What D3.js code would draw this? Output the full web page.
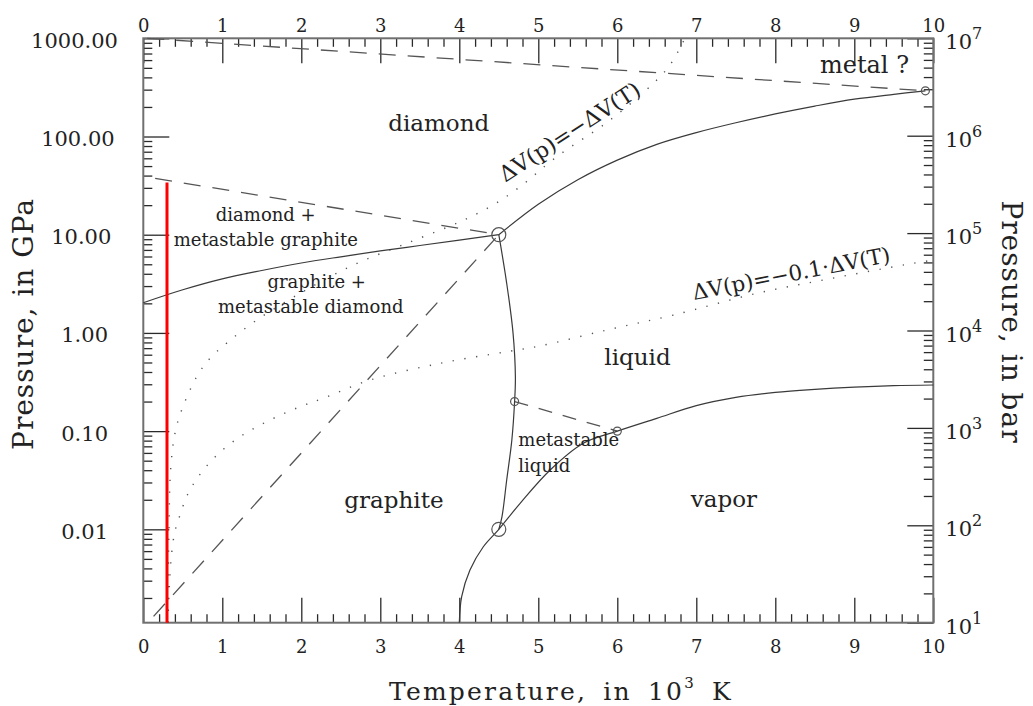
<!DOCTYPE html>
<html><head><meta charset="utf-8">
<script src="https://cdn.jsdelivr.net/npm/d3@7"></script>
<style>
body{margin:0;background:#fff}
svg{display:block}
text{font-family:"DejaVu Serif",serif;fill:#222}
</style>
</head><body>
<svg id="chart" width="1033" height="706"></svg>
<script>
// ---------------- data (T in 10^3 K, P in GPa) ----------------
const xTickValues = [0,1,2,3,4,5,6,7,8,9,10];
const xMinorValues = d3.range(0,10.001,0.2).filter(v => Math.abs(v-Math.round(v))>1e-6);
const leftTickValues = [1000,100,10,1,0.1,0.01];
const leftTickLabels = ["1000.00","100.00","10.00","1.00","0.10","0.01"];
const rightTickExponents = [1,2,3,4,5,6,7];

const graphiteDiamond = [[0,2.03],[0.5,2.75],[1.0,3.55],[1.5,4.32],[2.0,5.15],[2.5,5.96],[3.0,6.84],[3.5,7.76],[4.0,8.81],[4.5,10]];
const meltingGraphite = [[4.5,10],[4.6,3.2],[4.68,1.0],[4.71,0.355],[4.70,0.2],[4.665,0.081],[4.6,0.0318],[4.54,0.0134],[4.5,0.01]];
const liquidDiamond = [[4.5,10],[5.0,20.4],[5.5,36.3],[6.0,57.5],[6.5,83.2],[7.0,109.6],[7.5,138],[8.0,169.8],[8.5,204],[9.0,240],[9.5,269],[9.9,292]];
const vaporCurve = [[4.0,0.00112],[4.03,0.00206],[4.135,0.00385],[4.304,0.00665],[4.5,0.01],[4.77,0.0184],[5.15,0.0402],[5.57,0.0752],[6.0,0.1],[6.5,0.135],[7.0,0.182],[7.5,0.221],[8.0,0.248],[8.5,0.266],[9.0,0.28],[9.5,0.29],[10,0.295]];
const dvEqual = [[0.313,0.00112],[0.325,0.01],[0.347,0.0418],[0.401,0.095],[0.486,0.164],[0.676,0.358],[0.844,0.551],[1.076,0.813],[1.435,1.35],[1.984,2.53],[2.658,4.91],[3.334,8.17],[4.009,13.55],[4.4,19.5],[4.75,30],[5.233,62.2],[5.908,147],[6.456,348],[6.667,535],[6.857,1000]];
const dvTenth = [[0.313,0.00112],[0.329,0.0026],[0.359,0.0057],[0.40,0.0095],[0.46,0.0136],[0.562,0.0227],[0.718,0.0363],[0.92,0.0557],[1.161,0.081],[1.414,0.108],[1.689,0.14],[1.984,0.177],[2.278,0.216],[2.87,0.331],[3.756,0.49],[4.6,0.644],[5.02,0.736],[5.866,1.07],[6.709,1.52],[7.765,2.53],[8.608,3.46],[9.747,5.12],[10,5.52]];
const metalBoundary = [[0.05,1000],[9.9,292]];
const metastableDiamondLine = [[0.15,37.5],[4.5,10]];
const metastableGraphiteLine = [[0.13,0.0013],[4.5,10]];
const metastableLiquidLine = [[4.70,0.2],[6.0,0.1]];
const triplePoints = [[4.5,10],[4.5,0.01]];
const minorPoints = [[4.70,0.2],[6.0,0.1],[9.9,292]];
const redLine = [[0.3,0.00112],[0.3,34]];

const regionLabels = [
  {text:"diamond", T:3.74, P:114, size:23, anchor:"middle"},
  {text:"diamond +", T:1.55, P:13.9, size:18, anchor:"middle"},
  {text:"metastable graphite", T:1.55, P:7.67, size:18, anchor:"middle"},
  {text:"graphite +", T:2.195, P:2.87, size:18, anchor:"middle"},
  {text:"metastable diamond", T:2.12, P:1.61, size:18, anchor:"middle"},
  {text:"liquid", T:6.256, P:0.471, size:23, anchor:"middle"},
  {text:"metastable", T:4.747, P:0.0705, size:18, anchor:"start"},
  {text:"liquid", T:4.747, P:0.0386, size:18, anchor:"start"},
  {text:"graphite", T:3.173, P:0.0165, size:23, anchor:"middle"},
  {text:"vapor", T:7.35, P:0.0168, size:23, anchor:"middle"},
  {text:"metal ?", T:8.565, P:440, size:24, anchor:"start"}
];
const curveLabels = [
  {text:"ΔV(p)=−ΔV(T)", T:5.45, P:96, size:22, angle:-33},
  {text:"ΔV(p)=−0.1·ΔV(T)", T:8.22, P:3.39, size:21.5, angle:-11}
];

// ---------------- scales ----------------
const L=143.3, R=933.3, TOP=38.3, BOT=622.7;
const svg = d3.select("#chart");
const x = d3.scaleLinear().domain([0,10]).range([L,R]);
const y = d3.scaleLog().domain([0.00112,1000]).range([BOT,TOP]);
const yBar = d3.scaleLog().domain([10,1e7]).range([BOT,TOP]);

const leftMinor = [];
for (let e=-3;e<=2;e++) for (let m=2;m<=9;m++){const v=m*Math.pow(10,e); if(v>=0.00112&&v<=1000) leftMinor.push(v);}
const rightMinor = [];
for (let e=1;e<=6;e++) for (let m=2;m<=9;m++) rightMinor.push(m*Math.pow(10,e));

// ---------------- axes ----------------
function styleAxis(g){ g.select(".domain").remove(); g.selectAll(".tick line").attr("stroke","#2a2a2a").attr("stroke-width",1.3); }
function styleText(sel,size){ sel.attr("font-size",size).attr("font-family","DejaVu Serif").attr("fill","#222"); }

svg.append("g").attr("transform",`translate(0,${BOT})`)
  .call(d3.axisBottom(x).tickValues(xMinorValues).tickSize(-8.5).tickSizeOuter(0).tickFormat(""))
  .call(styleAxis);
svg.append("g").attr("transform",`translate(0,${TOP})`)
  .call(d3.axisTop(x).tickValues(xMinorValues).tickSize(-8.5).tickSizeOuter(0).tickFormat(""))
  .call(styleAxis);
const gb = svg.append("g").attr("transform",`translate(0,${BOT})`)
  .call(d3.axisBottom(x).tickValues(xTickValues).tickSize(-25).tickSizeOuter(0).tickPadding(17.5).tickFormat(d3.format("d")))
  .call(styleAxis);
styleText(gb.selectAll("text"),18);
const gt = svg.append("g").attr("transform",`translate(0,${TOP})`)
  .call(d3.axisTop(x).tickValues(xTickValues).tickSize(-25).tickSizeOuter(0).tickPadding(6.6).tickFormat(d3.format("d")))
  .call(styleAxis);
styleText(gt.selectAll("text"),18);

svg.append("g").attr("transform",`translate(${L},0)`)
  .call(d3.axisLeft(y).tickValues(leftMinor).tickSize(-9).tickSizeOuter(0).tickFormat(""))
  .call(styleAxis);
const gl = svg.append("g").attr("transform",`translate(${L},0)`)
  .call(d3.axisLeft(y).tickValues(leftTickValues).tickSize(-26).tickSizeOuter(0).tickFormat((d,i)=>leftTickLabels[i]))
  .call(styleAxis);
styleText(gl.selectAll("text"),21);
gl.selectAll("text").attr("dy","0.43em").attr("x",(d,i)=>-(L-108) + (leftTickLabels[i].length-4)*3.3);

svg.append("g").attr("transform",`translate(${R},0)`)
  .call(d3.axisRight(yBar).tickValues(rightMinor).tickSize(-9.5).tickSizeOuter(0).tickFormat(""))
  .call(styleAxis);
const gr = svg.append("g").attr("transform",`translate(${R},0)`)
  .call(d3.axisRight(yBar).tickValues(rightTickExponents.map(e=>Math.pow(10,e))).tickSize(-26).tickSizeOuter(0).tickFormat(""))
  .call(styleAxis);
gr.selectAll(".tick text").remove();
gr.selectAll(".tick").each(function(d,i){
  const t = d3.select(this).append("text").attr("x",12).attr("y",10.5).attr("font-size",21).attr("text-anchor","start");
  t.append("tspan").text("10");
  t.append("tspan").attr("dy",-10).attr("font-size",16).text(String(rightTickExponents[i]));
});

svg.append("rect").attr("x",L).attr("y",TOP).attr("width",R-L).attr("height",BOT-TOP)
  .attr("fill","none").attr("stroke","#707070").attr("stroke-width",2);

// ---------------- curves ----------------
const line = d3.line().x(d=>x(d[0])).y(d=>y(d[1])).curve(d3.curveCatmullRom.alpha(0.5));
const straight = d3.line().x(d=>x(d[0])).y(d=>y(d[1]));
const plot = svg.append("g");
function path(data, gen, opts){
  plot.append("path").datum(data).attr("d",gen).attr("fill","none")
    .attr("stroke",opts.color||"#444").attr("stroke-width",opts.width||1.2)
    .attr("stroke-dasharray",opts.dash||null).attr("stroke-linecap","butt");
}
const dotted = "1.3 10.5", dashed = "17 12";
path(dvEqual, line, {dash:dotted, width:1.4, color:"#555"});
path(dvTenth, line, {dash:dotted, width:1.4, color:"#555"});
path(metalBoundary, straight, {dash:dashed, color:"#555", width:1.3});
path(metastableDiamondLine, straight, {dash:dashed, color:"#555", width:1.3});
path(metastableGraphiteLine, straight, {dash:dashed, color:"#555", width:1.3});
path(metastableLiquidLine, straight, {dash:"14 11", color:"#555", width:1.3});
path(graphiteDiamond, line, {color:"#3a3a3a"});
path(meltingGraphite, line, {color:"#3a3a3a"});
path(liquidDiamond, line, {color:"#3a3a3a"});
path(vaporCurve, line, {color:"#3a3a3a"});
path(redLine, straight, {color:"#ff0000", width:3});

plot.selectAll("circle.big").data(triplePoints).join("circle").attr("class","big")
  .attr("cx",d=>x(d[0])).attr("cy",d=>y(d[1])).attr("r",7).attr("fill","none").attr("stroke","#555").attr("stroke-width",1.2);
plot.selectAll("circle.small").data(minorPoints).join("circle").attr("class","small")
  .attr("cx",d=>x(d[0])).attr("cy",d=>y(d[1])).attr("r",4).attr("fill","none").attr("stroke","#555").attr("stroke-width",1.2);

// ---------------- labels ----------------
svg.append("g").selectAll("text").data(regionLabels).join("text")
  .attr("x",d=>x(d.T)).attr("y",d=>y(d.P)).attr("font-size",d=>d.size).attr("text-anchor",d=>d.anchor).text(d=>d.text);
svg.append("g").selectAll("text").data(curveLabels).join("text")
  .attr("transform",d=>`translate(${x(d.T)},${y(d.P)}) rotate(${d.angle})`)
  .attr("font-size",d=>d.size).attr("text-anchor","middle").text(d=>d.text);

svg.append("text").attr("transform",`translate(33,324) rotate(-90)`).attr("text-anchor","middle")
  .attr("font-size",28).attr("letter-spacing",1).text("Pressure, in GPa");
svg.append("text").attr("transform",`translate(1002,322) rotate(90)`).attr("text-anchor","middle")
  .attr("font-size",28).attr("letter-spacing",1).text("Pressure, in bar");
const xt = svg.append("text").attr("x",561).attr("y",700).attr("text-anchor","middle").attr("font-size",25)
  .attr("letter-spacing",2.2).attr("word-spacing",6);
xt.append("tspan").text("Temperature, in 10");
xt.append("tspan").attr("dy",-12).attr("font-size",15).text("3");
xt.append("tspan").attr("dy",12).text(" K");
</script>
</body></html>
